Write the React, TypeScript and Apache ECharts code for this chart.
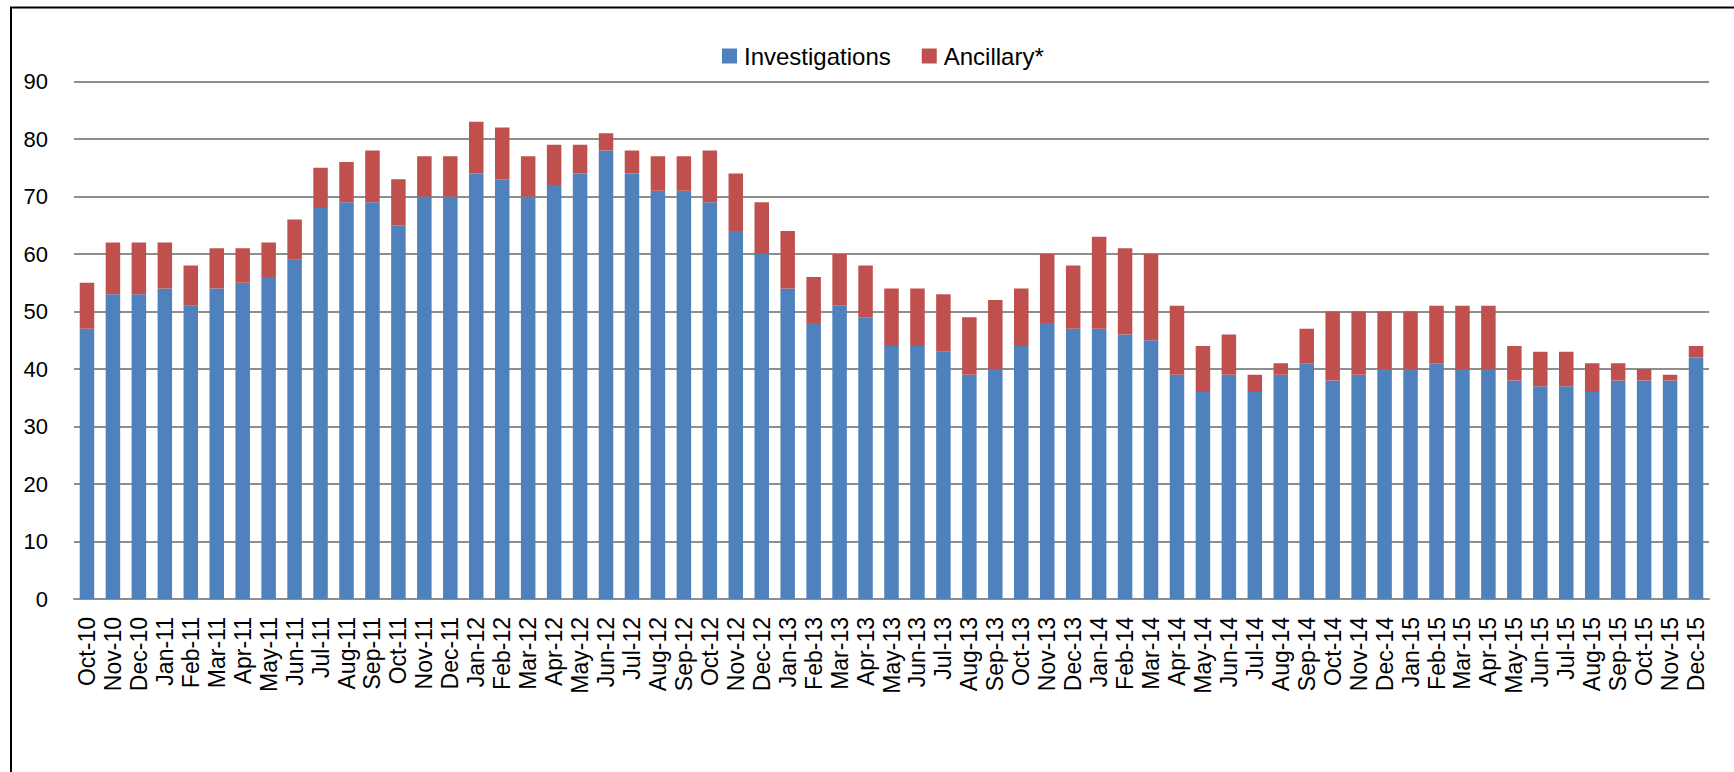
import React, { useEffect, useRef } from "react";
import * as echarts from "echarts";

const categories = [
  "Oct-10", "Nov-10", "Dec-10",
  "Jan-11", "Feb-11", "Mar-11", "Apr-11", "May-11", "Jun-11", "Jul-11", "Aug-11", "Sep-11", "Oct-11", "Nov-11", "Dec-11",
  "Jan-12", "Feb-12", "Mar-12", "Apr-12", "May-12", "Jun-12", "Jul-12", "Aug-12", "Sep-12", "Oct-12", "Nov-12", "Dec-12",
  "Jan-13", "Feb-13", "Mar-13", "Apr-13", "May-13", "Jun-13", "Jul-13", "Aug-13", "Sep-13", "Oct-13", "Nov-13", "Dec-13",
  "Jan-14", "Feb-14", "Mar-14", "Apr-14", "May-14", "Jun-14", "Jul-14", "Aug-14", "Sep-14", "Oct-14", "Nov-14", "Dec-14",
  "Jan-15", "Feb-15", "Mar-15", "Apr-15", "May-15", "Jun-15", "Jul-15", "Aug-15", "Sep-15", "Oct-15", "Nov-15", "Dec-15",
];

const investigations = [
  47, 53, 53,
  54, 51, 54, 55, 56, 59, 68, 69, 69, 65, 70, 70,
  74, 73, 70, 72, 74, 78, 74, 71, 71, 69, 64, 60,
  54, 48, 51, 49, 44, 44, 43, 39, 40, 44, 48, 47,
  47, 46, 45, 39, 36, 39, 36, 39, 41, 38, 39, 40,
  40, 41, 40, 40, 38, 37, 37, 36, 38, 38, 38, 42,
];

const ancillary = [
  8, 9, 9,
  8, 7, 7, 6, 6, 7, 7, 7, 9, 8, 7, 7,
  9, 9, 7, 7, 5, 3, 4, 6, 6, 9, 10, 9,
  10, 8, 9, 9, 10, 10, 10, 10, 12, 10, 12, 11,
  16, 15, 15, 12, 8, 7, 3, 2, 6, 12, 11, 10,
  10, 10, 11, 11, 6, 6, 6, 5, 3, 2, 1, 2,
];

const yTicks = { min: 0, max: 90, interval: 10 };

const FONT = "'Liberation Sans', Arial, sans-serif";

export default function App() {
  const ref = useRef<HTMLDivElement>(null);

  useEffect(() => {
    document.body.style.margin = "0";
    if (!ref.current) return;
    const chart = echarts.init(ref.current, null, { renderer: "svg" });
    chart.setOption({
      animation: false,
      backgroundColor: "#ffffff",
      textStyle: { fontFamily: FONT },
      legend: {
        left: 717,
        top: 38,
        itemWidth: 15,
        itemHeight: 15,
        itemGap: 31,
        icon: "rect",
        data: ["Investigations", "Ancillary*"],
        textStyle: {
          fontFamily: FONT,
          fontSize: 24,
          color: "#000",
          lineHeight: 26,
          padding: [0, 0, 0, 2],
        },
      },
      grid: { left: 74, right: 25, top: 81.5, bottom: 173, containLabel: false },
      xAxis: {
        type: "category",
        data: categories,
        axisLine: { show: true, lineStyle: { color: "#8e8e8e", width: 2 } },
        axisTick: { show: false },
        axisLabel: {
          interval: 0,
          rotate: 90,
          margin: 18,
          fontFamily: FONT,
          fontSize: 23,
          color: "#000",
        },
      },
      yAxis: {
        type: "value",
        min: yTicks.min,
        max: yTicks.max,
        interval: yTicks.interval,
        axisLine: { show: false },
        axisTick: { show: false },
        axisLabel: { margin: 26, fontFamily: FONT, fontSize: 22, color: "#000" },
        splitLine: { lineStyle: { color: "#8e8e8e", width: 2 } },
      },
      series: [
        {
          name: "Investigations",
          type: "bar",
          stack: "total",
          data: investigations,
          barWidth: 14.5,
          itemStyle: { color: "#4F81BD" },
        },
        {
          name: "Ancillary*",
          type: "bar",
          stack: "total",
          data: ancillary,
          barWidth: 14.5,
          itemStyle: { color: "#C0504D" },
        },
      ],
      graphic: [
        {
          type: "line",
          shape: { x1: 11, y1: 7, x2: 11, y2: 772 },
          style: { stroke: "#000", lineWidth: 2 },
        },
        {
          type: "line",
          shape: { x1: 10, y1: 7.5, x2: 1734, y2: 7.5 },
          style: { stroke: "#000", lineWidth: 2 },
        },
      ],
    });
    return () => chart.dispose();
  }, []);

  return (
    <div
      ref={ref}
      style={{ position: "absolute", left: 0, top: 0, width: 1734, height: 772 }}
    />
  );
}
